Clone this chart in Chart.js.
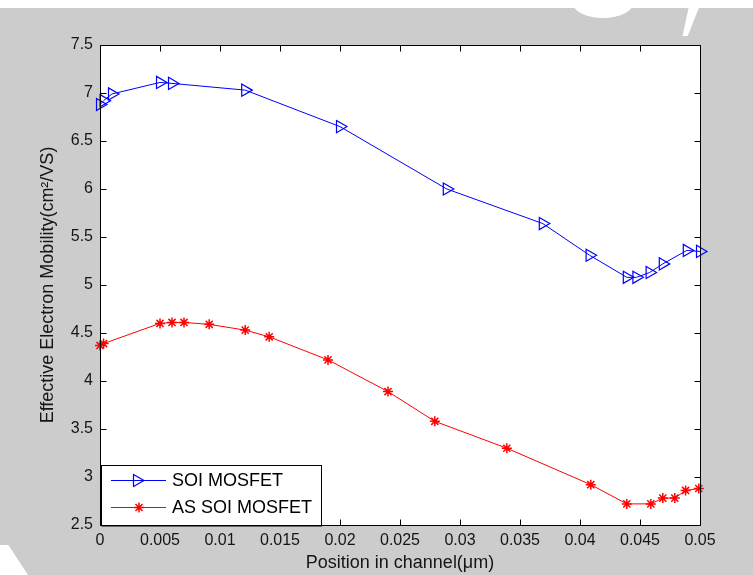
<!DOCTYPE html>
<html><head><meta charset="utf-8">
<script src="https://cdn.jsdelivr.net/npm/chart.js@4/dist/chart.umd.min.js"></script>
<style>
html,body{margin:0;padding:0;background:#cccccc;width:753px;height:575px;overflow:hidden;}
#top{position:absolute;left:0;top:0;width:753px;height:8px;background:#fff;}
#blob{position:absolute;left:572px;top:-14px;width:62px;height:32px;border-radius:50%;background:#fff;}
#slash{position:absolute;left:676px;top:0;width:26px;height:36px;background:#fff;clip-path:polygon(55% 0,100% 0,45% 100%,25% 100%);}
#corner{position:absolute;left:0;top:545px;width:28px;height:30px;background:#fff;clip-path:polygon(0 0,30% 0,100% 100%,0 100%);}
#wrap{position:absolute;left:0;top:0;width:753px;height:575px;}
</style></head><body>
<div id="top"></div><div id="blob"></div><div id="slash"></div><div id="corner"></div>
<div id="wrap"><canvas id="c" width="753" height="575"></canvas></div>
<script>
// ---- data ----
const seriesNames = ['SOI MOSFET', 'AS SOI MOSFET'];
const soiX = [0, 0.0003, 0.001, 0.005, 0.006, 0.0121, 0.02, 0.0289, 0.0369, 0.0408, 0.0439, 0.0447, 0.0458, 0.0469, 0.0489, 0.05];
const soiY = [6.88, 6.92, 6.99, 7.11, 7.10, 7.03, 6.65, 6.00, 5.64, 5.31, 5.08, 5.08, 5.13, 5.22, 5.36, 5.35];
const asX = [0, 0.0003, 0.005, 0.006, 0.007, 0.0091, 0.0121, 0.0141, 0.019, 0.024, 0.0279, 0.0339, 0.0409, 0.0439, 0.0459, 0.0469, 0.0479, 0.0488, 0.0499];
const asY = [4.37, 4.39, 4.60, 4.61, 4.61, 4.59, 4.53, 4.46, 4.22, 3.89, 3.58, 3.30, 2.92, 2.72, 2.72, 2.78, 2.78, 2.86, 2.88];
const xTicks = [0, 0.005, 0.01, 0.015, 0.02, 0.025, 0.03, 0.035, 0.04, 0.045, 0.05];
const yTicks = [2.5, 3, 3.5, 4, 4.5, 5, 5.5, 6, 6.5, 7, 7.5];
const xTitle = 'Position in channel(\u03bcm)';
const yTitle = 'Effective Electron Mobility(cm\u00b2/VS)';

const toPts = (xs, ys) => xs.map((x, i) => ({x: x, y: ys[i]}));
const FONT = "'Liberation Sans', Arial, sans-serif";
Chart.defaults.font.family = FONT;
Chart.defaults.color = '#151515';

function drawTri(ctx, x, y, r, color) {
  ctx.save(); ctx.strokeStyle = color; ctx.lineWidth = 1.2;
  ctx.beginPath();
  ctx.moveTo(x + r, y);
  ctx.lineTo(x - r / 2, y - r * 0.866);
  ctx.lineTo(x - r / 2, y + r * 0.866);
  ctx.closePath(); ctx.stroke(); ctx.restore();
}
function drawStar(ctx, x, y, r, color) {
  ctx.save(); ctx.strokeStyle = color; ctx.lineWidth = 1.5;
  ctx.beginPath();
  ctx.moveTo(x - r, y); ctx.lineTo(x + r, y);
  ctx.moveTo(x, y - r); ctx.lineTo(x, y + r);
  const d = r * 0.707;
  ctx.moveTo(x - d, y - d); ctx.lineTo(x + d, y + d);
  ctx.moveTo(x - d, y + d); ctx.lineTo(x + d, y - d);
  ctx.stroke(); ctx.restore();
}

const framePlugin = {
  id: 'frame',
  beforeDraw(chart) {
    const {ctx, chartArea: a} = chart;
    ctx.save(); ctx.fillStyle = '#ffffff';
    ctx.fillRect(a.left, a.top, a.right - a.left, a.bottom - a.top);
    ctx.restore();
  },
  afterDraw(chart) {
    const {ctx, chartArea: a, scales} = chart;
    ctx.save();
    ctx.strokeStyle = '#000'; ctx.lineWidth = 1;
    const L = Math.round(a.left) + 0.5, R = Math.round(a.right) + 0.5;
    const T = Math.round(a.top) + 0.5, B = Math.round(a.bottom) + 0.5;
    ctx.beginPath();
    ctx.rect(L, T, R - L, B - T);
    const tl = 6;
    xTicks.forEach(v => {
      const px = Math.round(scales.x.getPixelForValue(v)) + 0.5;
      ctx.moveTo(px, B); ctx.lineTo(px, B - tl);
      ctx.moveTo(px, T); ctx.lineTo(px, T + tl);
    });
    yTicks.forEach(v => {
      const py = Math.round(scales.y.getPixelForValue(v)) + 0.5;
      ctx.moveTo(L, py); ctx.lineTo(L + tl, py);
      ctx.moveTo(R, py); ctx.lineTo(R - tl, py);
    });
    ctx.stroke();

    // legend
    const lx = L + 1, ly = 465.5, lw = 220, lh = B - ly;
    ctx.fillStyle = '#fff';
    ctx.fillRect(lx, ly, lw, lh);
    ctx.strokeStyle = '#000'; ctx.lineWidth = 1;
    ctx.strokeRect(lx, ly, lw, lh);
    ctx.beginPath(); ctx.moveTo(lx, B + 0.5); ctx.lineTo(lx + lw + 0.5, B + 0.5); ctx.stroke();
    const rows = [480, 507];
    const colors = ['#0000ff', '#ff0000'];
    rows.forEach((ry, i) => {
      ctx.strokeStyle = colors[i]; ctx.lineWidth = 1;
      ctx.beginPath(); ctx.moveTo(111, ry + 0.5); ctx.lineTo(166, ry + 0.5); ctx.stroke();
      if (i === 0) drawTri(ctx, 137, ry + 0.5, 7, colors[i]);
      else drawStar(ctx, 139, ry + 0.5, 5, colors[i]);
      ctx.fillStyle = '#000';
      ctx.font = '18px ' + FONT;
      ctx.textBaseline = 'middle'; ctx.textAlign = 'left';
      ctx.fillText(seriesNames[i], 172, ry + 1);
    });
    ctx.restore();
  }
};

new Chart(document.getElementById('c'), {
  type: 'line',
  data: {
    datasets: [
      {
        label: seriesNames[0], data: toPts(soiX, soiY),
        borderColor: '#0000ff', borderWidth: 1, tension: 0, fill: false,
        pointStyle: 'triangle', pointRotation: 90, pointRadius: 7,
        pointBorderColor: '#0000ff', pointBackgroundColor: 'rgba(0,0,0,0)', pointBorderWidth: 1.2,
        clip: false
      },
      {
        label: seriesNames[1], data: toPts(asX, asY),
        borderColor: '#ff0000', borderWidth: 1, tension: 0, fill: false,
        pointStyle: 'star', pointRadius: 5,
        pointBorderColor: '#ff0000', pointBackgroundColor: '#ff0000', pointBorderWidth: 1.5,
        clip: false
      }
    ]
  },
  options: {
    responsive: false, animation: false, devicePixelRatio: 1,
    layout: {padding: {left: 0, top: 45, right: 53, bottom: 0}},
    plugins: {legend: {display: false}, tooltip: {enabled: false}},
    scales: {
      x: {
        type: 'linear', min: 0, max: 0.05,
        afterBuildTicks: s => { s.ticks = xTicks.map(v => ({value: v})); },
        afterFit: s => { s.height = 50; },
        grid: {display: false, drawTicks: false}, border: {display: false},
        ticks: {padding: 6, maxRotation: 0, autoSkip: false, font: {size: 16},
          callback: v => String(Number(v.toFixed(3)))},
        title: {display: true, text: xTitle, font: {size: 18}, padding: {top: 0, bottom: 1}}
      },
      y: {
        type: 'linear', min: 2.5, max: 7.5,
        afterBuildTicks: s => { s.ticks = yTicks.map(v => ({value: v})); },
        afterFit: s => { s.width = 100; },
        grid: {display: false, drawTicks: false}, border: {display: false},
        ticks: {padding: 7, autoSkip: false, font: {size: 16},
          callback: v => String(Number(v.toFixed(1)))},
        title: {display: true, text: yTitle, font: {size: 18}, padding: {top: 37, bottom: 0}}
      }
    }
  },
  plugins: [framePlugin]
});
</script>
</body></html>
